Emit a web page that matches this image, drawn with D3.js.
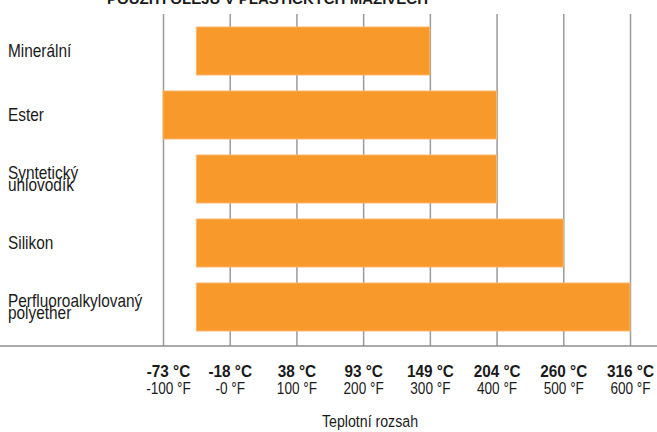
<!DOCTYPE html>
<html>
<head>
<meta charset="utf-8">
<script src="https://cdn.jsdelivr.net/npm/d3@7"></script>
<style>
  html, body { margin: 0; padding: 0; background: #fff; }
  svg { display: block; }
  text { font-family: "Liberation Sans", Arial, Helvetica, sans-serif; fill: #1a1a1a; }
</style>
</head>
<body>
<svg id="chart" width="657" height="432"></svg>
<script>
// Base oil types and their usable temperature range (°F)
const categories = ["Minerální", "Ester", "Syntetický\nuhlovodík", "Silikon", "Perfluoroalkylovaný\npolyether"];
const minTempF = [-50, -100, -50, -50, -50];
const maxTempF = [300, 400, 400, 500, 600];

// Axis ticks: Fahrenheit positions with their Celsius / Fahrenheit labels
const tickF = [-100, 0, 100, 200, 300, 400, 500, 600];
const tickLabelsC = ["-73 °C", "-18 °C", "38 °C", "93 °C", "149 °C", "204 °C", "260 °C", "316 °C"];
const tickLabelsF = ["-100 °F", "-0 °F", "100 °F", "200 °F", "300 °F", "400 °F", "500 °F", "600 °F"];

const title = "POUŽITÍ OLEJŮ V PLASTICKÝCH MAZIVECH";
const axisTitle = "Teplotní rozsah";

const svg = d3.select("#chart");
const W = 657;
const baseY = 346, gridTop = 14;

const x = d3.scaleLinear().domain([-100, 600]).range([163, 630]);
const y = d3.scaleBand().domain(categories).range([19, 339]).paddingInner(0.25).paddingOuter(0.125);

// Title (runs off the top edge)
svg.append("text")
  .attr("x", 107).attr("y", 4)
  .attr("textLength", 321).attr("lengthAdjust", "spacingAndGlyphs")
  .style("font-size", "15px").style("font-weight", "bold")
  .text(title);

// Vertical gridlines + tick labels from the axis generator
const axis = d3.axisBottom(x)
  .tickValues(tickF)
  .tickSizeInner(-(baseY - gridTop))
  .tickSizeOuter(0)
  .tickFormat("");

const gAxis = svg.append("g")
  .attr("transform", `translate(0,${baseY})`)
  .call(axis);
gAxis.select(".domain").remove();
gAxis.selectAll(".tick line").attr("stroke", "#9b9b9b").attr("stroke-width", 1.5);

gAxis.selectAll(".tick").each(function(d, i) {
  const g = d3.select(this);
  g.select("text").remove();
  const dx = i === 0 ? 5 : 0;
  g.append("text")
    .attr("text-anchor", "middle")
    .attr("transform", `translate(${dx},31) scale(0.9,1)`)
    .style("font-size", "17px").style("font-weight", "bold")
    .text(tickLabelsC[i]);
  g.append("text")
    .attr("text-anchor", "middle")
    .attr("transform", `translate(${dx},48) scale(0.8,1)`)
    .style("font-size", "17px")
    .text(tickLabelsF[i]);
});

// Baseline across the full width
svg.append("line")
  .attr("x1", 0).attr("x2", W)
  .attr("y1", baseY).attr("y2", baseY)
  .attr("stroke", "#8e8e8e").attr("stroke-width", 1.5);

// Range bars
svg.append("g").selectAll("rect")
  .data(categories)
  .join("rect")
  .attr("x", (d, i) => x(minTempF[i]))
  .attr("width", (d, i) => x(maxTempF[i]) - x(minTempF[i]))
  .attr("y", d => y(d))
  .attr("height", y.bandwidth())
  .attr("fill", "#f7992b")
  .attr("stroke", "#fbb86c")
  .attr("stroke-width", 1);

// Category labels (one or two lines, tight leading)
const lineGap = 12;
svg.append("g").selectAll("g")
  .data(categories)
  .join("g")
  .each(function(d) {
    const lines = d.split("\n");
    const cy = y(d) + y.bandwidth() / 2;
    const first = cy + 6 - (lines.length - 1) * lineGap / 2;
    lines.forEach((ln, k) => {
      d3.select(this).append("text")
        .attr("transform", `translate(8,${first + k * lineGap}) scale(0.88,1)`)
        .style("font-size", "17.5px")
        .text(ln);
    });
  });

// Axis title
svg.append("text")
  .attr("text-anchor", "middle")
  .attr("transform", "translate(370,427) scale(0.86,1)")
  .style("font-size", "16.5px")
  .text(axisTitle);
</script>
</body>
</html>
